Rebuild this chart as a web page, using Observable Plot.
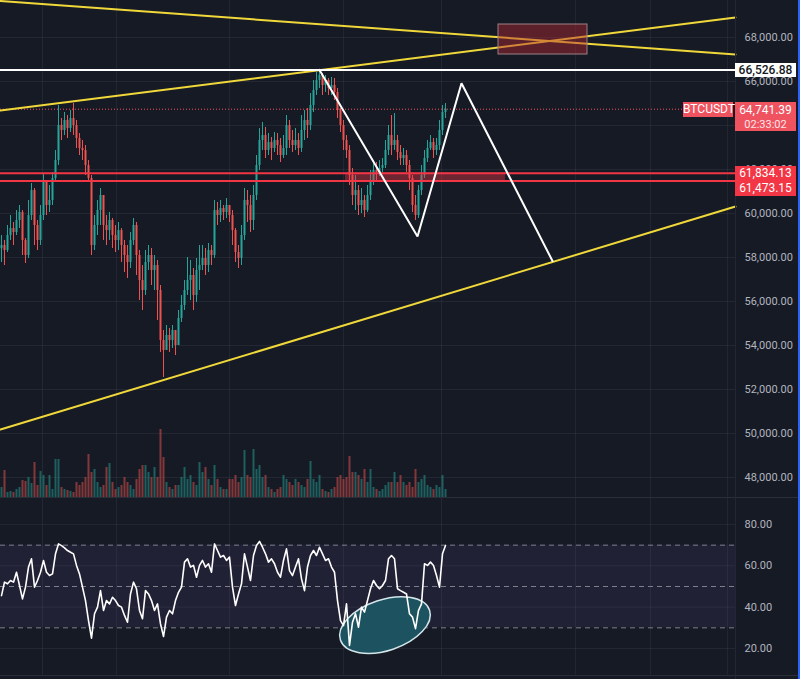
<!DOCTYPE html>
<html><head><meta charset="utf-8">
<script src="https://cdn.jsdelivr.net/npm/d3@7"></script>
<script src="https://cdn.jsdelivr.net/npm/@observablehq/plot@0.6"></script>
<style>
html,body{margin:0;padding:0;background:#161a25;}
#chart{position:relative;width:800px;height:679px;overflow:hidden;background:#161a25;font-family:Roboto,"Liberation Sans",sans-serif;}
#chart svg{position:absolute;left:0;}
.lbl{position:absolute;font-size:11.5px;line-height:15px;height:15px;color:#fff;text-align:center;white-space:nowrap;}
.sep{position:absolute;background:#2a2e39;}
</style></head><body><div id="chart"></div>
<script>
// ---------- data ----------
const firstOpen = 58400;
const close = [58545,58318,59000,59318,59136,59682,60045,58773,58091,59909,
61045,59455,58773,59909,61500,60364,60591,61591,62409,64000,
63773,64227,63864,64318,64000,63409,62955,62864,62182,61591,
58545,59455,60136,60818,59455,59227,59682,59000,58773,59227,
58545,58091,57773,58773,59455,58091,56955,56500,57773,58091,
57409,57636,56500,54227,53773,54455,54227,54682,54000,55227,
55818,56500,56955,57182,56273,57409,57636,57955,57636,58318,
58091,60136,59909,60227,60045,60364,59909,59227,58227,57955,
59000,60591,60364,59682,60818,62182,63318,63545,62864,63227,
62955,63318,63091,62636,62955,64000,63318,63091,63318,62955,
63773,64227,64000,64909,65591,66045,66273,65818,66045,65682,
65818,65500,64682,64000,63318,62864,61727,60818,61045,60364,
60591,60136,60818,61500,61955,61864,62045,62182,62864,63545,
63091,63318,62773,62500,62636,62182,61591,60364,59909,61045,
61727,62500,62955,63227,62864,63091,63773,64591,64741.39];
const high = [59000,58773,59455,59909,59591,60136,60364,60136,58864,60591,
61364,61136,59682,60364,61818,61500,61273,61864,62864,64909,
64318,64591,64455,64682,65000,64227,63636,63318,63091,62409,
61727,59909,60591,61136,60818,59909,60045,59773,59455,59591,
59318,58773,58545,59136,59773,59591,58318,57636,58318,58545,
58409,58091,57864,56727,54682,54909,54773,54909,54682,55591,
56273,56955,58000,57864,57500,57955,58545,58545,58409,58636,
58545,60591,60500,60591,60364,60682,60364,60136,59318,58545,
59455,61136,61045,60818,61273,62636,63864,64136,63909,63636,
63455,63682,63636,63409,63545,64455,64227,63773,63864,63636,
64455,64682,64773,65455,66045,66409,66526.88,66364,66273,66136,
66182,66136,65682,64773,64227,63545,63091,62045,61727,61273,
61136,60818,61273,61955,62409,62318,62409,62500,63318,64000,
64455,64545,63545,63091,62955,62864,62409,61727,60818,61273,
62182,62864,63318,63545,63409,63409,64227,64909,65000];
const low = [57773,57636,58227,58773,58545,59000,59318,58091,57727,57955,
59682,58545,58318,58545,59682,59909,60045,60364,61409,62182,
63318,63545,63409,63682,63545,62955,62636,62409,61727,61409,
58091,58318,59000,59455,58773,58545,58773,58409,58227,58318,
57773,57318,57045,57500,58545,57182,56045,55591,56273,57409,
56727,56500,55136,53682,52545,53773,53682,53864,53545,54000,
55045,55591,56273,56045,55591,55955,56500,57409,57182,57318,
57636,57955,59455,59591,59682,59773,59591,58545,57773,57500,
57636,58773,59591,59136,59227,60591,61955,62864,62500,62636,
62409,62773,62636,62318,62500,62636,62955,62773,62864,62636,
62773,63318,63409,63773,64591,65364,65682,65364,65500,65364,
65364,65136,64318,63682,62864,62500,61273,60364,60136,59909,
60000,59818,60045,60591,61273,61500,61682,61864,62045,62636,
62636,62864,62409,62182,62182,61864,61045,60045,59682,59773,
60818,61591,62318,62864,62500,62636,62864,63545,64318];
const volume = [10,27,5,6,5,8,10,17,16,20,
14,35,12,26,22,12,22,8,38,38,
10,8,7,6,5,15,12,15,20,43,
25,28,15,10,12,30,34,15,8,10,
12,20,15,12,8,18,28,32,32,25,
20,30,20,68,40,15,10,8,12,12,
20,30,18,22,15,12,35,25,30,18,
12,32,18,10,8,8,18,18,22,15,
20,47,22,20,48,28,32,20,22,10,
8,5,8,10,22,18,15,12,18,15,
12,10,18,36,18,15,22,8,6,5,
8,10,20,22,18,20,41,25,25,22,
18,28,15,28,10,8,6,8,12,15,
15,25,15,22,15,12,15,10,28,15,
18,22,12,10,8,12,10,22,8];
const rsi = [45.6,52.1,51.3,52.9,52.1,56.9,50.5,44.0,49.7,59.4,
63.4,49.7,52.9,56.9,62.6,56.9,55.3,56.1,65.8,70.6,
69.8,68.7,67.4,66.6,65.8,60.2,56.1,49.7,43.2,33.5,
25.0,36.8,40.0,48.0,38.4,43.2,41.6,44.8,43.2,40.8,
40.0,36.0,32.7,46.4,52.1,48.9,38.4,34.4,48.0,46.4,
43.2,38.4,41.6,31.9,25.8,35.2,38.4,36.8,43.2,47.2,
49.7,61.8,63.4,59.4,60.2,54.5,60.2,62.6,59.4,61.0,
56.9,70.6,67.4,64.2,65.0,62.6,64.2,49.7,40.8,46.4,
51.3,65.8,59.4,52.9,65.0,69.8,71.8,69.0,65.8,61.8,
63.4,61.0,56.9,54.5,62.6,68.2,57.7,55.3,59.4,63.4,
53.7,48.0,59.4,65.0,67.4,65.0,69.0,65.8,62.6,63.4,
59.4,56.9,43.2,33.5,31.1,41.6,21.5,32.7,36.8,30.3,
40.0,37.6,43.2,48.9,52.9,50.5,48.9,50.5,52.9,63.4,
65.0,63.4,48.9,48.0,47.2,46.4,36.8,35.2,29.6,38.4,
41.6,61.0,60.2,61.8,60.2,55.3,49.7,65.8,69.8];

const priceTicks = [48000,50000,52000,54000,56000,58000,60000,62000,64000,66000,68000];
// 64,000 sits fully under the last-price badge in the reference, so its label is not drawn
const priceLabelTicks = [48000,50000,52000,54000,56000,58000,60000,62000,66000,68000];
const rsiTicks = [20,40,60,80];
const rsiLevels = [70,50,30];
const timeGrid = [13.67,38.33,76,114,146.67,191.33,216.33,242];

const lastPrice = 64741.39;
const lastTimer = "02:33:02";
const symbol = "BTCUSDT";
const highLevel = 66526.88;
const zoneLevels = [61834.13, 61473.15];

const trendUpper = [{bar:-0.33, price:69659},{bar:244.67, price:67227}];
const trendMid   = [{bar:-0.33, price:64682},{bar:244.67, price:68909}];
const trendLower = [{bar:-0.33, price:50182},{bar:244.67, price:60318}];
const zigzag = [{bar:106, price:66526.88},{bar:138.67, price:58955},{bar:153.33, price:65923},{bar:183.67, price:57841}];
const targetBox = [{bar1:165.67, bar2:195.33, low:67227, high:68591}];
const zoneBox = [{bar1:114.67, bar2:168, low:61473.15, high:61834.13}];
const rsiEllipse = {bar:128, rsi:31.1, rBars:15.67, rRsi:12.3, angle:-18.5};

// ---------- build ----------
const xDomain = [-0.333, 244.667];
const UP = "#26a69a", DOWN = "#ef5350", YEL = "#f0d83a", GRID = "rgba(255,255,255,0.06)";
const candles = close.map((c,i)=>{ const o = i===0 ? firstOpen : close[i-1]; return {i, o, c, h: high[i], l: low[i], v: volume[i], up: c >= o}; });
const ups = candles.filter(d=>d.up), downs = candles.filter(d=>!d.up);
const fmt2 = d3.format(",.2f");
const styleBase = {background:"transparent", color:"#b2b5be", fontSize:"11px", fontFamily:"Roboto, 'Liberation Sans', sans-serif", overflow:"visible"};
const chart = document.getElementById("chart");

const main = Plot.plot({
  width: 800, height: 497, marginLeft: 0, marginRight: 65, marginTop: 0, marginBottom: 0,
  x: {domain: xDomain, axis: null},
  y: {domain: [47091, 69682], axis: null},
  style: styleBase,
  marks: [
    Plot.ruleX(timeGrid, {x: d=>d, stroke: GRID}),
    Plot.ruleY(priceTicks, {y: d=>d, stroke: GRID}),
    Plot.axisY(priceLabelTicks, {anchor: "right", tickSize: 0, tickPadding: 9, tickFormat: fmt2, fill: "#b2b5be"}),
    Plot.ruleX(ups, {x: "i", y1: "l", y2: "h", stroke: UP, strokeWidth: 1}),
    Plot.ruleX(downs, {x: "i", y1: "l", y2: "h", stroke: DOWN, strokeWidth: 1}),
    Plot.ruleX(ups, {x: "i", y1: "o", y2: "c", stroke: UP, strokeWidth: 2}),
    Plot.ruleX(downs, {x: "i", y1: "o", y2: "c", stroke: DOWN, strokeWidth: 2}),
    Plot.rect(zoneBox, {x1: "bar1", x2: "bar2", y1: "low", y2: "high", fill: "#f23645", fillOpacity: 0.4}),
    Plot.ruleY(zoneLevels, {y: d=>d, stroke: "#f23645", strokeWidth: 2}),
    Plot.ruleY([lastPrice], {y: d=>d, stroke: "#f7525f", strokeWidth: 1, strokeDasharray: "1,2"}),
    Plot.line(trendUpper, {x: "bar", y: "price", stroke: YEL, strokeWidth: 2}),
    Plot.line(trendMid, {x: "bar", y: "price", stroke: YEL, strokeWidth: 2}),
    Plot.line(trendLower, {x: "bar", y: "price", stroke: YEL, strokeWidth: 2}),
    Plot.ruleY([highLevel], {y: d=>d, stroke: "#ffffff", strokeWidth: 2}),
    Plot.line(zigzag, {x: "bar", y: "price", stroke: "#ffffff", strokeWidth: 2, strokeLinejoin: "miter"}),
    Plot.rect(targetBox, {x1: "bar1", x2: "bar2", y1: "low", y2: "high", fill: "#b22833", fillOpacity: 0.45, stroke: "#9b8186", strokeWidth: 1})
  ]
});
main.style.top = "0px";
chart.appendChild(main);

const vol = Plot.plot({
  width: 800, height: 80, marginLeft: 0, marginRight: 65, marginTop: 0, marginBottom: 0,
  x: {domain: xDomain, axis: null},
  y: {domain: [0, 80], axis: null},
  style: styleBase,
  marks: [
    Plot.ruleX(ups, {x: "i", y1: 0, y2: "v", stroke: UP, strokeOpacity: 0.5, strokeWidth: 2}),
    Plot.ruleX(downs, {x: "i", y1: 0, y2: "v", stroke: DOWN, strokeOpacity: 0.5, strokeWidth: 2})
  ]
});
vol.style.top = "417px";
chart.appendChild(vol);

function ellipseMark(e){
  return (index, scales) => {
    const g = document.createElementNS("http://www.w3.org/2000/svg", "g");
    if (!scales || typeof scales.x !== "function") return g;
    const cx = scales.x(e.bar), cy = scales.y(e.rsi);
    const rx = Math.abs(scales.x(e.bar + e.rBars) - cx);
    const ry = Math.abs(scales.y(e.rsi + e.rRsi) - cy);
    const el = document.createElementNS("http://www.w3.org/2000/svg", "ellipse");
    el.setAttribute("cx", cx); el.setAttribute("cy", cy);
    el.setAttribute("rx", rx); el.setAttribute("ry", ry);
    el.setAttribute("transform", `rotate(${e.angle} ${cx} ${cy})`);
    el.setAttribute("fill", "#1d5360");
    el.setAttribute("stroke", "#d3e6ea");
    el.setAttribute("stroke-width", "1.5");
    g.appendChild(el);
    return g;
  };
}

const rsiData = rsi.map((v,i)=>({i, v}));
const rsiPlot = Plot.plot({
  width: 800, height: 178, marginLeft: 0, marginRight: 65, marginTop: 0, marginBottom: 0,
  x: {domain: xDomain, axis: null},
  y: {domain: [6.94, 93.06], axis: null},
  style: styleBase,
  marks: [
    Plot.ruleX(timeGrid, {x: d=>d, stroke: GRID}),
    Plot.rect([{a: 30, b: 70}], {x1: xDomain[0], x2: xDomain[1], y1: "a", y2: "b", fill: "#7e57c2", fillOpacity: 0.11}),
    Plot.ruleY(rsiTicks, {y: d=>d, stroke: GRID}),
    Plot.ruleY(rsiLevels, {y: d=>d, stroke: "#9598a1", strokeOpacity: 0.8, strokeDasharray: "5,4"}),
    ellipseMark(rsiEllipse),
    Plot.line(rsiData, {x: "i", y: "v", stroke: "#ffffff", strokeWidth: 1.6}),
    Plot.axisY(rsiTicks, {anchor: "right", tickSize: 0, tickPadding: 9, tickFormat: d3.format(".2f"), fill: "#b2b5be"})
  ]
});
rsiPlot.style.top = "497px";
chart.appendChild(rsiPlot);

// separators
function sep(l,t,w,h,c){ const d=document.createElement("div"); d.className="sep"; Object.assign(d.style,{left:l+"px",top:t+"px",width:w+"px",height:h+"px"}); if(c) d.style.background=c; chart.appendChild(d); }
sep(0,497,800,1);
sep(0,675,800,1);
sep(735,0,1,679,"#232733");
sep(798,0,2,679,"#2962ff");

// price labels via the main y scale
const ys = main.scale("y");
function label(text, left, top, width, bg, color, extra){
  const d = document.createElement("div"); d.className="lbl"; d.textContent=text;
  Object.assign(d.style,{left:left+"px", top:top+"px", width:width+"px", background:bg, color:color}, extra||{});
  chart.appendChild(d); return d;
}
const yHigh = ys.apply(highLevel);
label(fmt2(highLevel), 735, Math.round(yHigh)-6, 61, "#ffffff", "#131722", {fontSize:"12px", height:"14px", lineHeight:"14px", fontWeight:"500"});
const yLast = ys.apply(lastPrice);
label(symbol, 683, Math.round(yLast)-7, 50, "#ef5360", "#fff", {fontSize:"12px"});
const pb = label(fmt2(lastPrice), 735, Math.round(yLast)-7, 61, "#ef5360", "#fff", {height:"29px", fontSize:"12px", lineHeight:"14px", paddingTop:"1px", boxSizing:"border-box"});
pb.innerHTML = fmt2(lastPrice) + "<br><span style='font-size:11px;opacity:.85'>" + lastTimer + "</span>";
const yZ = ys.apply(zoneLevels[0]);
label(fmt2(zoneLevels[0]), 735, Math.round(yZ)-7, 61, "#f23645", "#fff", {fontSize:"12px"});
label(fmt2(zoneLevels[1]), 735, Math.round(yZ)+8, 61, "#f23645", "#fff", {fontSize:"12px"});
</script></body></html>
